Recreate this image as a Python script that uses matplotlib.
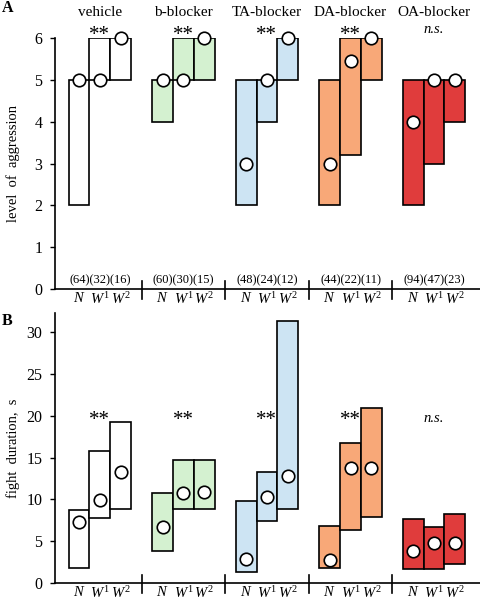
import matplotlib
matplotlib.use("Agg")
import matplotlib.pyplot as plt
from matplotlib.lines import Line2D
import matplotlib.transforms as mtransforms

plt.rcParams['font.family'] = ['Liberation Serif', 'DejaVu Serif']
plt.rcParams['mathtext.fontset'] = 'custom'
plt.rcParams['mathtext.rm'] = 'Liberation Serif'
plt.rcParams['mathtext.it'] = 'Liberation Serif:italic'

groups = ["vehicle", "b-blocker", "TA-blocker", "DA-blocker", "OA-blocker"]
colors = ["#ffffff", "#d4f1d0", "#cde4f3", "#f8a878", "#e03c3c"]
signif = ["**", "**", "**", "**", "n.s."]
counts = ["(64)(32)(16)", "(60)(30)(15)", "(48)(24)(12)", "(44)(22)(11)", "(94)(47)(23)"]
conds = ["N", "W1", "W2"]
cond_labels = [r"$\mathit{N}$", r"$\mathit{W}^{\mathit{1}}$", r"$\mathit{W}^{\mathit{2}}$"]

# Panel A: level of aggression (low quartile, high quartile, median) per group x condition
aggr_low = [[2, 5, 5], [4, 5, 5], [2, 4, 5], [2, 3.2, 5], [2, 3, 4]]
aggr_high = [[5, 6, 6], [5, 6, 6], [5, 5, 6], [5, 6, 6], [5, 5, 5]]
aggr_med = [[5, 5, 6], [5, 5, 6], [3, 5, 6], [3, 5.45, 6], [4, 5, 5]]

# Panel B: fight duration, s
dur_low = [[1.8, 7.8, 8.8], [3.8, 8.8, 8.8], [1.3, 7.4, 8.8], [1.8, 6.4, 7.9], [1.7, 1.7, 2.3]]
dur_high = [[8.7, 15.8, 19.25], [10.8, 14.7, 14.7], [9.8, 13.3, 31.3], [6.8, 16.8, 20.9], [7.7, 6.7, 8.3]]
dur_med = [[7.3, 9.9, 13.3], [6.75, 10.8, 10.9], [2.9, 10.3, 12.8], [2.8, 13.8, 13.8], [3.8, 4.8, 4.8]]

W, H = 480, 600
fig = plt.figure(figsize=(4.8, 6.0), dpi=100)

def axes_px(left, top, right, bottom):
    return fig.add_axes([left / W, 1 - bottom / H, (right - left) / W, (bottom - top) / H])

axA = axes_px(55, 38, 480, 289)
axB = axes_px(55, 313, 480, 583)

GSP = 4.0
XL = (-2.15, 4 * GSP + 2.2)

def draw(ax, low, high, med, ylim, yticks, ylabel, star_y, ns_y, show_counts, count_y):
    for g in range(len(groups)):
        for c in range(len(conds)):
            x = g * GSP + (c - 1)
            ax.bar(x, high[g][c] - low[g][c], bottom=low[g][c], width=1.0,
                   color=colors[g], edgecolor="black", linewidth=1.2, zorder=2)
        for c in range(len(conds)):
            x = g * GSP + (c - 1)
            ax.plot(x, med[g][c], marker="o", markersize=9, markerfacecolor="white",
                    markeredgecolor="black", markeredgewidth=1.2, zorder=4, clip_on=False)
        if signif[g] == "**":
            ax.text(g * GSP, star_y, "**", ha="center", va="center", fontsize=15)
        else:
            ax.text(g * GSP, ns_y, "n.s.", ha="center", va="center", fontsize=10.5, style="italic")
        if show_counts:
            ax.text(g * GSP, count_y, counts[g], ha="center", va="center", fontsize=9)
    ax.set_xlim(*XL)
    ax.set_ylim(*ylim)
    ax.set_yticks(yticks)
    ax.tick_params(axis="y", direction="out", length=3.5, width=1.0, pad=5.5, labelsize=11.5)
    xs = [g * GSP + (c - 1) for g in range(len(groups)) for c in range(len(conds))]
    ax.set_xticks(xs)
    ax.set_xticklabels(cond_labels * len(groups), fontsize=10.5)
    ax.tick_params(axis="x", length=0, pad=1.5)
    for s in ["top", "right"]:
        ax.spines[s].set_visible(False)
    ax.spines["left"].set_linewidth(1.2)
    ax.spines["bottom"].set_linewidth(1.2)
    pos = ax.get_position()
    hpx = pos.height * H
    trans = mtransforms.blended_transform_factory(ax.transData, ax.transAxes)
    for g in range(len(groups) - 1):
        xsep = g * GSP + GSP / 2
        ax.add_line(Line2D([xsep, xsep], [-10 / hpx, 8 / hpx], transform=trans,
                           color="black", linewidth=1.2, clip_on=False))
    fig.text(13 / W, pos.y0 + pos.height / 2, ylabel,
             rotation=90, ha="center", va="center", fontsize=10.5)

draw(axA, aggr_low, aggr_high, aggr_med, (0, 6), range(0, 7),
     "level  of  aggression", 6.05, 6.2, True, 0.22)
draw(axB, dur_low, dur_high, dur_med, (0, 32.3), range(0, 31, 5),
     "fight  duration,  s", 19.4, 19.7, False, 0)

# group titles
for g, name in enumerate(groups):
    axA.text(g * GSP, 6.62, name, ha="center", va="center", fontsize=11)

fig.text(2 / W, 1 - 8 / H, "A", ha="left", va="center", fontsize=11.5, fontweight="bold")
fig.text(2 / W, 1 - 321 / H, "B", ha="left", va="center", fontsize=11.5, fontweight="bold")

fig.savefig("out.png", dpi=100)
